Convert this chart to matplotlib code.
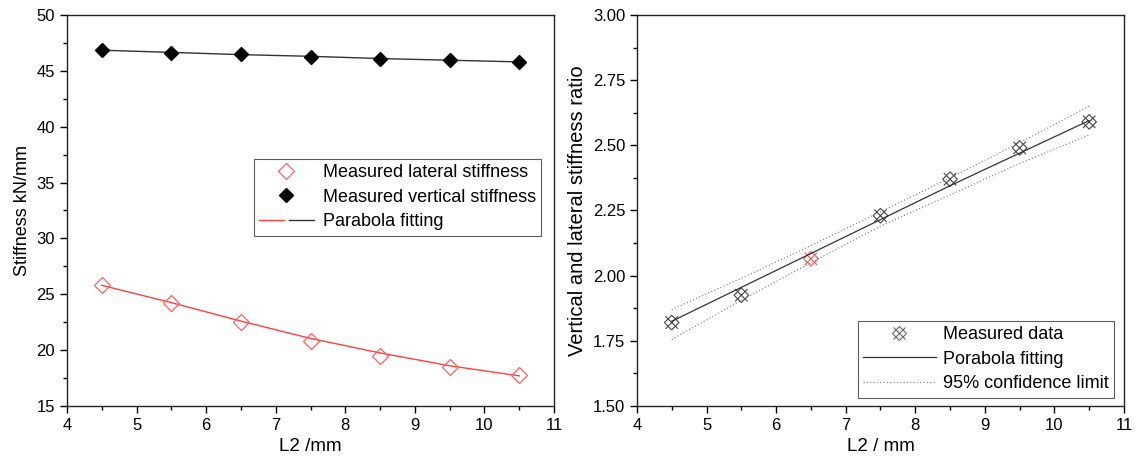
import matplotlib
matplotlib.use("Agg")
import matplotlib.pyplot as plt
from matplotlib.lines import Line2D
from matplotlib.legend_handler import HandlerTuple
from matplotlib.ticker import MultipleLocator

plt.rcParams['font.family'] = ['Liberation Sans', 'DejaVu Sans']

# data
L2 = [4.5, 5.5, 6.5, 7.5, 8.5, 9.5, 10.5]
lateral = [25.8, 24.2, 22.5, 20.8, 19.5, 18.5, 17.8]
vertical = [46.85, 46.6, 46.5, 46.25, 46.1, 45.95, 45.8]
lateral_fit = [25.8, 24.25, 22.6, 21.05, 19.75, 18.6, 17.7]
vertical_fit = [46.85, 46.65, 46.45, 46.3, 46.1, 45.95, 45.8]

ratio = [1.82, 1.925, 2.065, 2.23, 2.37, 2.49, 2.59]
ratio_colors = ['#444444', '#444444', '#ff5555', '#444444', '#444444', '#444444', '#444444']
ratio_fit = [1.825, 1.955, 2.085, 2.215, 2.345, 2.47, 2.595]
ci_upper = [1.87, 1.99, 2.115, 2.245, 2.375, 2.51, 2.65]
ci_lower = [1.755, 1.905, 2.05, 2.19, 2.31, 2.43, 2.54]

fig = plt.figure(figsize=(11.36, 4.68), dpi=100)
ax1 = fig.add_axes([0.059, 0.1325, 0.4287, 0.8355])
ax2 = fig.add_axes([0.5607, 0.1325, 0.4287, 0.8355])

# left panel
red_fit, = ax1.plot(L2, lateral_fit, color='#ff4040', lw=1)
blk_fit, = ax1.plot(L2, vertical_fit, color='#333333', lw=1)
lat_pts, = ax1.plot(L2, lateral, ls='none', marker='D', ms=8, mfc='none',
                    mec='#ff6060', mew=0.9)
ver_pts, = ax1.plot(L2, vertical, ls='none', marker='D', ms=7, color='black')
ax1.set_xlim(4, 11)
ax1.set_ylim(15, 50)
ax1.xaxis.set_major_locator(MultipleLocator(1))
ax1.xaxis.set_minor_locator(MultipleLocator(0.5))
ax1.yaxis.set_major_locator(MultipleLocator(5))
ax1.yaxis.set_minor_locator(MultipleLocator(2.5))
ax1.set_xlabel('L2 /mm', fontsize=13.5)
ax1.set_ylabel('Stiffness kN/mm', fontsize=13)
leg1 = ax1.legend([lat_pts, ver_pts, (red_fit, blk_fit)],
                  ['Measured lateral stiffness', 'Measured vertical stiffness', 'Parabola fitting'],
                  handler_map={tuple: HandlerTuple(ndivide=None, pad=0.3)},
                  loc='upper right', bbox_to_anchor=(0.992, 0.656), fontsize=13,
                  frameon=True, fancybox=False, edgecolor='#333333', handlelength=3.0,
                  borderpad=0.3, labelspacing=0.42, handletextpad=0.5)
leg1.get_frame().set_linewidth(0.8)

# right panel
ax2.plot(L2, ratio_fit, color='#333333', lw=0.9)
ax2.plot(L2, ci_upper, color='#777777', lw=0.8, ls=(0, (1, 2)))
ax2.plot(L2, ci_lower, color='#777777', lw=0.8, ls=(0, (1, 2)))
ax2.scatter(L2, ratio, marker='D', s=55, facecolors='none', edgecolors=ratio_colors, linewidths=0.8)
ax2.scatter(L2, ratio, marker='x', s=80, c=ratio_colors, linewidths=0.8)
ax2.set_xlim(4, 11)
ax2.set_ylim(1.5, 3.0)
ax2.xaxis.set_major_locator(MultipleLocator(1))
ax2.xaxis.set_minor_locator(MultipleLocator(0.5))
ax2.yaxis.set_major_locator(MultipleLocator(0.25))
ax2.yaxis.set_minor_locator(MultipleLocator(0.125))
ax2.yaxis.set_major_formatter(plt.FormatStrFormatter('%.2f'))
ax2.set_xlabel('L2 / mm', fontsize=13.5)
ax2.set_ylabel('Vertical and lateral stiffness ratio', fontsize=14.5)

h_data = (Line2D([], [], ls='none', marker='D', ms=7, mfc='none', mec='#666666', mew=0.8),
          Line2D([], [], ls='none', marker='x', ms=9, color='#666666', mew=0.8))
h_fit = Line2D([], [], color='#333333', lw=0.9)
h_ci = Line2D([], [], color='#777777', lw=0.8, ls=(0, (1, 2)))
leg2 = ax2.legend([h_data, h_fit, h_ci],
                  ['Measured data', 'Porabola fitting', '95% confidence limit'],
                  handler_map={tuple: HandlerTuple(ndivide=1)},
                  loc='lower right', bbox_to_anchor=(0.998, -0.002), fontsize=13,
                  frameon=True, fancybox=False, edgecolor='#333333', handlelength=4.0,
                  borderpad=0.3, labelspacing=0.42, handletextpad=0.4)
leg2.get_frame().set_linewidth(0.8)

for ax in (ax1, ax2):
    for s in ax.spines.values():
        s.set_linewidth(1.0)
        s.set_color('#222222')
    ax.tick_params(which='major', direction='out', length=5, width=1, labelsize=12)
    ax.tick_params(which='minor', direction='out', length=3, width=1)

fig.savefig('out.png', dpi=100)
